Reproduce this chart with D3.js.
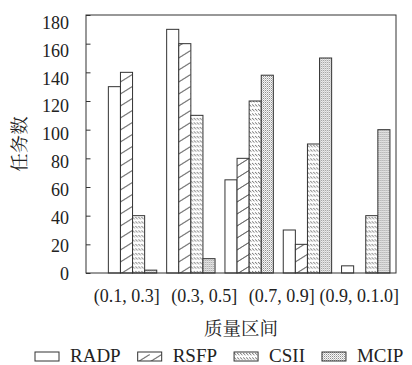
<!DOCTYPE html>
<html>
<head>
<meta charset="utf-8">
<script src="https://cdn.jsdelivr.net/npm/d3@7"></script>
<style>
  body { margin: 0; background: #fff; }
</style>
</head>
<body>
<div id="chart"></div>
<script>
// data
const groups = ["(0.1, 0.3]", "(0.3, 0.5]", "(0.5, 0.7]", "(0.7, 0.9]", "(0.9, 1.0]"];
const tickLabels = ["(0.1, 0.3]", "(0.3, 0.5]", "(0.7, 0.9]", "(0.9, 0.1.0]"];
const series = ["RADP", "RSFP", "CSII", "MCIP"];
const RADP = [130, 170, 65, 30, 5];
const RSFP = [140, 160, 80, 20, 0];
const CSII = [40, 110, 120, 90, 40];
const MCIP = [2, 10, 138, 150, 100];
const yTicks = [0, 20, 40, 60, 80, 100, 120, 140, 160, 180];

const values = { RADP, RSFP, CSII, MCIP };

const width = 412, height = 365;
const pLeft = 86, pRight = 396, pTop = 15, pBottom = 273;
const latin = '"Times New Roman"';
const cjk = '"Noto Serif CJK SC"';

const svg = d3.select("#chart").append("svg")
  .attr("width", width)
  .attr("height", height);

// fill patterns
const defs = svg.append("defs");

const hatch = defs.append("pattern").attr("id", "p-RSFP")
  .attr("patternUnits", "userSpaceOnUse").attr("width", 12).attr("height", 12);
hatch.append("rect").attr("width", 12).attr("height", 12).attr("fill", "#fff");
hatch.append("path").attr("d", "M0,10 L12,2.5 M-12,17.5 L12,2.5 M0,22 L12,14.5")
  .attr("stroke", "#666").attr("stroke-width", 0.9).attr("fill", "none");

const wave = defs.append("pattern").attr("id", "p-CSII")
  .attr("patternUnits", "userSpaceOnUse").attr("width", 3).attr("height", 4.5);
wave.append("rect").attr("width", 3).attr("height", 4.5).attr("fill", "#fff");
wave.append("path").attr("d", "M0,0.8 L2.4,3.2")
  .attr("stroke", "#555").attr("stroke-width", 0.9);

const dots = defs.append("pattern").attr("id", "p-MCIP")
  .attr("patternUnits", "userSpaceOnUse").attr("width", 2).attr("height", 2);
dots.append("rect").attr("width", 2).attr("height", 2).attr("fill", "#fafafa");
dots.append("rect").attr("width", 1).attr("height", 1).attr("fill", "#8a8a8a");
dots.append("rect").attr("x", 1).attr("y", 1).attr("width", 1).attr("height", 1).attr("fill", "#c4c4c4");

const fillOf = s => s === "RADP" ? "#fff" : "url(#p-" + s + ")";

// scales
const y = d3.scaleLinear().domain([0, 180]).range([pBottom, pTop]);
const yLabel = d3.scaleLinear().domain([0, 180]).range([pBottom + 1, 22.3]);

const x0 = d3.scaleBand().domain(groups)
  .range([103.4, 394.9]).paddingInner(0.17).paddingOuter(0.085);
const x1 = d3.scaleBand().domain(series).range([0, x0.bandwidth()]);

const xLab = d3.scaleBand().domain(tickLabels).range([pLeft, pRight]);

// bars
const g = svg.append("g");
g.selectAll("g.grp")
  .data(groups)
  .join("g")
  .attr("class", "grp")
  .attr("transform", d => `translate(${x0(d)},0)`)
  .selectAll("rect")
  .data((d, i) => series.map(s => ({ s, v: values[s][i] })).filter(e => e.v > 0))
  .join("rect")
  .attr("x", d => x1(d.s))
  .attr("y", d => y(d.v))
  .attr("width", x1.bandwidth())
  .attr("height", d => y(0) - y(d.v))
  .attr("fill", d => fillOf(d.s))
  .attr("stroke", "#333")
  .attr("stroke-width", 1);

// y axis, ticks pointing inward
const yAxis = svg.append("g")
  .attr("transform", `translate(${pLeft},0)`)
  .call(d3.axisLeft(y).tickValues(yTicks).tickSize(-4.5).tickPadding(17).tickSizeOuter(0));
yAxis.select(".domain").remove();
yAxis.selectAll("line").attr("stroke", "#333");
yAxis.selectAll("text")
  .style("font-family", latin)
  .style("font-size", "18px")
  .attr("fill", "#222")
  .attr("y", d => yLabel(d) - y(d));

// frame
svg.append("rect")
  .attr("x", pLeft).attr("y", pTop)
  .attr("width", pRight - pLeft).attr("height", pBottom - pTop)
  .attr("fill", "none").attr("stroke", "#333").attr("stroke-width", 1);

// x labels
svg.append("g").selectAll("text")
  .data(tickLabels)
  .join("text")
  .attr("x", d => xLab(d) + xLab.bandwidth() / 2 + 2)
  .attr("y", 302)
  .attr("text-anchor", "middle")
  .attr("fill", "#222")
  .style("font-family", latin)
  .style("font-size", "18px")
  .text(d => d);

// axis titles
svg.append("text")
  .attr("x", (pLeft + pRight) / 2)
  .attr("y", 335)
  .attr("text-anchor", "middle")
  .attr("fill", "#222")
  .style("font-family", cjk)
  .style("font-size", "18.5px")
  .text("质量区间");

svg.append("text")
  .attr("transform", `translate(26,${(pTop + pBottom) / 2}) rotate(-90)`)
  .attr("text-anchor", "middle")
  .attr("fill", "#222")
  .style("font-family", cjk)
  .style("font-size", "18.5px")
  .text("任务数");

// legend
const legend = svg.append("g").attr("transform", "translate(35,352)");
let lx = 0;
series.forEach(s => {
  const it = legend.append("g").attr("transform", `translate(${lx},0)`);
  it.append("rect")
    .attr("width", 24).attr("height", 9)
    .attr("fill", fillOf(s)).attr("stroke", "#333");
  const t = it.append("text")
    .attr("x", 35).attr("y", 10)
    .attr("fill", "#222")
    .style("font-family", latin)
    .style("font-size", "19px")
    .text(s);
  lx += 35 + t.node().getComputedTextLength() + 17;
});
</script>
</body>
</html>
